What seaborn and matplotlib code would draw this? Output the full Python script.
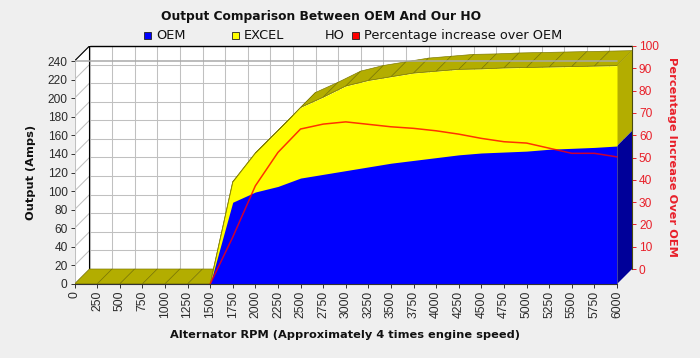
import numpy as np
import pandas as pd
import seaborn as sns
import matplotlib.pyplot as plt
from matplotlib.patches import Polygon, Rectangle

# values
rpm = [0, 250, 500, 750, 1000, 1250, 1500, 1750, 2000, 2250, 2500, 2750, 3000,
       3250, 3500, 3750, 4000, 4250, 4500, 4750, 5000, 5250, 5500, 5750, 6000]
oem = [0, 0, 0, 0, 0, 0, 0, 88, 99, 105, 114, 118, 122,
       126, 130, 133, 136, 139, 141, 142, 143, 145, 146, 147, 148.5]
excel = [0, 0, 0, 0, 0, 0, 0, 110, 141, 165, 190, 201, 213,
         219, 223, 227, 229, 231, 231.5, 232.5, 233, 233.5, 234, 234.5, 235]
pct = [0, 0, 0, 0, 0, 0, 0, 21, 44, 59, 69.5, 71.7, 72.7,
       71.6, 70.5, 69.8, 68.7, 67.2, 65.3, 63.8, 63.2, 60.9, 58.6, 58.6, 57]
amp_ticks = list(range(0, 241, 20))
pct_ticks = list(range(0, 101, 10))

BG = '#EFEFEF'
BLUE = '#0000FF'
DARK_BLUE = '#000099'
YELLOW = '#FFFF00'
OLIVE = '#B3AD00'
EDGE = '#7A7600'
RED = '#FF0000'
GRID = '#C0C0C0'

sns.set_theme(style='white', rc={'figure.facecolor': BG, 'axes.facecolor': 'none'})
plt.rcParams['font.family'] = ['Liberation Sans', 'DejaVu Sans']

df = pd.DataFrame({'rpm': rpm, 'oem': oem, 'excel': excel, 'pct': pct})

W, H = 700, 358
fig = plt.figure(figsize=(W / 100, H / 100), dpi=100)

# the box including the fake 3D depth: pixels 74.5-632 across, 46-284 down
rect = [74.5 / W, (H - 284) / H, (632 - 74.5) / W, (284 - 46) / H]
ax = fig.add_axes(rect)

# depth of the 3D effect, 15 px in data units
dx = 15 / 542.5 * 6000
dy = 15 / 223 * 240
ax.set_xlim(0, 6000 + dx)
ax.set_ylim(0, 240 + dy)

# walls
ax.add_patch(Polygon([(dx, dy), (6000 + dx, dy), (6000 + dx, 240 + dy), (dx, 240 + dy)],
                     fc='white', ec='none', zorder=0))
ax.add_patch(Polygon([(0, 0), (dx, dy), (dx, 240 + dy), (0, 240)], fc='white', ec='none', zorder=0))

for v in amp_ticks:
    ax.plot([dx, 6000 + dx], [v + dy, v + dy], color=GRID, lw=0.75, zorder=1)
    ax.plot([0, dx], [v, v + dy], color=GRID, lw=0.75, zorder=1)
for r in rpm:
    ax.plot([r + dx, r + dx], [dy, 240 + dy], color=GRID, lw=0.75, zorder=1)
ax.plot([0, 0], [0, 240], color=GRID, lw=0.75, zorder=1)

# black frame of the back wall
ax.plot([0, dx, dx], [240, 240 + dy, dy], color='black', lw=0.8, zorder=2)
ax.plot([dx, 6000 + dx], [240 + dy, 240 + dy], color='black', lw=1, zorder=2, clip_on=False)

# top surface of the yellow series and the floor
for i in range(len(rpm) - 1):
    x0, x1 = rpm[i], rpm[i + 1]
    y0, y1 = excel[i], excel[i + 1]
    ax.add_patch(Polygon([(x0, y0), (x1, y1), (x1 + dx, y1 + dy), (x0 + dx, y0 + dy)],
                         fc=OLIVE, ec=EDGE, lw=0.45, zorder=3))

# right hand side faces
ax.add_patch(Polygon([(6000, 148.5), (6000, 235), (6000 + dx, 235 + dy), (6000 + dx, 148.5 + dy)],
                     fc=OLIVE, ec='none', zorder=3))
ax.add_patch(Polygon([(6000, 0), (6000, 148.5), (6000 + dx, 148.5 + dy), (6000 + dx, dy)],
                     fc=DARK_BLUE, ec='none', zorder=3))

# front areas
ax.fill_between(df['rpm'], df['excel'], color=YELLOW, lw=0, zorder=4)
ax.fill_between(df['rpm'], df['oem'], color=BLUE, lw=0, zorder=5)
sns.lineplot(data=df, x='rpm', y='excel', ax=ax, color='#8A8600', lw=0.5, zorder=4.5)

# grey line of the 240 level across the front
ax.plot([0, 6000], [240, 240], color='#A8A8A8', lw=1.2, alpha=0.9, zorder=6)

ax.set_xticks(rpm)
ax.set_xticklabels([str(r) for r in rpm], rotation=90, fontsize=8.8, color='#2A2A2A')
ax.set_yticks(amp_ticks)
ax.set_yticklabels([str(v) for v in amp_ticks], fontsize=8.6, color='#2A2A2A')
ax.tick_params(axis='both', length=3, width=0.7, color='#333333', pad=2, bottom=True, left=True)
ax.set_xlabel('')
ax.set_ylabel('')
for s in ax.spines.values():
    s.set_visible(False)
ax.spines['bottom'].set_visible(True)
ax.spines['bottom'].set_bounds(0, 6000)
ax.spines['bottom'].set_color('#333333')
ax.spines['bottom'].set_linewidth(0.8)
ax.spines['bottom'].set_zorder(7)

# right axis, its zero sits on the back floor
ax2 = ax.twinx()
ax2.set_ylim(-15 / 2.23, 100)
ax2.set_yticks(pct_ticks)
ax2.set_yticklabels([str(v) for v in pct_ticks], fontsize=8.6, color='#E8202A')
ax2.tick_params(axis='y', length=3, width=0.7, color='#E8202A', pad=2, right=True)
for s in ax2.spines.values():
    s.set_visible(False)
ax2.spines['right'].set_visible(True)
ax2.spines['right'].set_bounds(0, 100)
ax2.spines['right'].set_color('#4A4A10')
ax2.spines['right'].set_linewidth(0.8)

# red line is drawn on the front plane
ax3 = ax.twinx()
ax3.set_ylim(0, 100 * 238 / 223)
ax3.axis('off')
sns.lineplot(data=df[df['rpm'] >= 1500], x='rpm', y='pct', ax=ax3, color=RED, lw=1.1, alpha=0.8)

# titles
fig.text(321 / W, 1 - 16.5 / H, 'Output Comparison Between OEM And Our HO', ha='center', va='center',
         fontsize=8.8, fontweight='bold', family='DejaVu Sans', color='#111111')
fig.text(345 / W, 1 - 335 / H, 'Alternator RPM (Approximately 4 times engine speed)', ha='center', va='center',
         fontsize=8.2, fontweight='bold', family='DejaVu Sans', color='#111111')
fig.text(31 / W, 1 - 172 / H, 'Output (Amps)', rotation=90, ha='center', va='center',
         fontsize=8.2, fontweight='bold', family='DejaVu Sans', color='#111111')
fig.text(672 / W, 1 - 157 / H, 'Percentage Increase Over OEM', rotation=270, ha='center', va='center',
         fontsize=8.2, fontweight='bold', family='DejaVu Sans', color='#E8202A')

# legend, spaced by hand
legend_names = ['OEM', 'EXCEL', 'HO', 'Percentage increase over OEM']
legend_colors = [BLUE, YELLOW, None, RED]
legend_x = [144, 232, 312.5, 352]
for name, c, x in zip(legend_names, legend_colors, legend_x):
    if c is not None:
        fig.add_artist(Rectangle((x / W, 1 - 39 / H), 7 / W, 7 / H, transform=fig.transFigure,
                                 fc=c, ec='#222222', lw=0.6))
    fig.text((x + 12) / W, 1 - 35.5 / H, name, ha='left', va='center', fontsize=9.3,
             family='DejaVu Sans', color='#111111')

fig.savefig('out.png', dpi=100, facecolor=BG)
